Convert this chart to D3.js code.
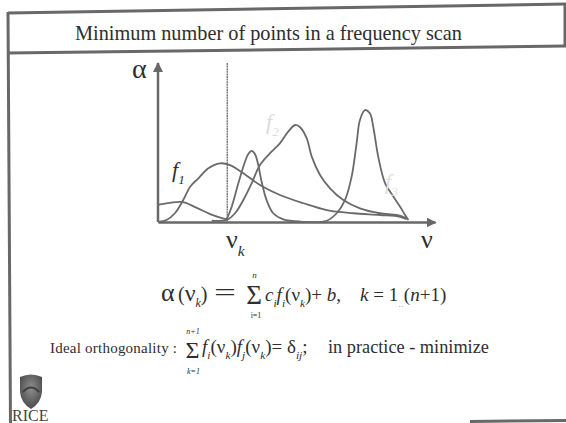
<!DOCTYPE html>
<html>
<head>
<meta charset="utf-8">
<script src="https://cdn.jsdelivr.net/npm/d3@7"></script>
<style>
  html, body { margin: 0; padding: 0; background: #fff; }
  svg { display: block; }
</style>
</head>
<body>
<svg id="slide" width="566" height="423"></svg>
<script>
// Sketched response curves: [frequency, absorbance] pairs in arbitrary units
const lowBump = [[0,10.7],[4.3,12],[8.7,12.6],[13.4,9.4],[18.8,5],[23.1,2.5],[25.3,1.6]];
const f1 = [[0,0],[3.1,1.3],[6.1,5.5],[9.1,13.8],[11.6,22.2],[14.6,27.5],[18.2,33.8],[22.4,36.9],
            [26,35.8],[30.8,30.6],[36.8,23.3],[44,17],[52.5,11.8],[60.9,7.5],[70.5,5.5],
            [80.1,4.4],[87.4,3.3],[89.8,1.7]];
const narrowPeak = [[24.8,1.7],[26.6,9.6],[29,24.3],[31.4,37.9],[32.6,42.8],[33.8,44.7],[35,42.8],
                    [36.2,35.8],[37.4,25.3],[39.2,13.8],[41.6,5.5],[45.2,1.7],[51.3,0.3]];
const f2 = [[19.4,0.8],[24.8,1.3],[27.8,5.5],[30.8,13.8],[33.8,24.3],[36.8,35.8],[40.4,43.2],
            [44,49.5],[47,56.8],[49.5,61],[51.3,59.6],[53.7,52.6],[55.5,41.1],[58.5,29.6],
            [62.1,21.2],[66.9,13.8],[72.9,8.6],[80.1,5.5],[86.2,4.4],[89.8,2.3]];
const f3 = [[51.3,0.3],[60.9,0.8],[64.5,5.5],[67.5,13.8],[69.9,28.5],[71.7,49.5],[72.9,64.2],
            [74.7,70.4],[76.5,68.4],[77.7,59.9],[79.5,41.1],[82,24.3],[85,15.9],[87.4,9.6],
            [89.2,4.4],[90.4,1.3]];
const curves = [lowBump, f1, narrowPeak, f2, f3];
const nuK = 25;   // sampling frequency marked on the axis

const titleText = "Minimum number of points in a frequency scan";

const svg = d3.select("#slide");
const ink = "#686868";
const textInk = "#2e2e2e";
const serif = "\"Liberation Serif\"";

// Slide frame
const frame = svg.append("g").attr("stroke", ink).attr("stroke-width", 3).attr("fill", "none");
frame.append("line").attr("x1", 8).attr("y1", 13).attr("x2", 566).attr("y2", 4);
frame.append("line").attr("x1", 8).attr("y1", 53).attr("x2", 566).attr("y2", 46);
frame.append("line").attr("x1", 8).attr("y1", 12).attr("x2", 10.5).attr("y2", 423);
frame.append("line").attr("x1", 565).attr("y1", 4).attr("x2", 565).attr("y2", 47);
frame.append("line").attr("x1", 470).attr("y1", 421.5).attr("x2", 566).attr("y2", 420.5);

// Scales and axes
const x = d3.scaleLinear().domain([0, 100]).range([158, 435]);
const y = d3.scaleLinear().domain([0, 100]).range([222, 63]);

const defs = svg.append("defs");
defs.append("marker").attr("id", "arrow").attr("viewBox", "0 0 10 10")
  .attr("refX", 9).attr("refY", 5).attr("markerWidth", 10).attr("markerHeight", 10)
  .attr("markerUnits", "userSpaceOnUse").attr("orient", "auto")
  .append("path").attr("d", "M0,0L10,5L0,10Z").attr("fill", ink);

const xAxis = svg.append("g").attr("transform", `translate(0,${y(0)})`)
  .call(d3.axisBottom(x).tickValues([]).tickSizeOuter(0));
const yAxis = svg.append("g").attr("transform", `translate(${x(0)},0)`)
  .call(d3.axisLeft(y).tickValues([]).tickSizeOuter(0));
xAxis.select(".domain").attr("stroke", ink).attr("stroke-width", 2.5).attr("marker-end", "url(#arrow)");
yAxis.select(".domain").attr("stroke", ink).attr("stroke-width", 2.5)
  .attr("d", `M0,${y(0)}V${y(100)}`).attr("marker-end", "url(#arrow)");

// Sampling frequency line
svg.append("line").attr("x1", x(nuK)).attr("x2", x(nuK)).attr("y1", y(100)).attr("y2", y(0))
  .attr("stroke", "#777").attr("stroke-width", 1.4).attr("stroke-dasharray", "2,0.6");

// Curves
const line = d3.line().x(d => x(d[0])).y(d => y(d[1])).curve(d3.curveCatmullRom.alpha(0.5));
svg.append("g").selectAll("path").data(curves).join("path")
  .attr("d", line).attr("fill", "none").attr("stroke", "#6a6a6a").attr("stroke-width", 1.8);

// Rich text helper: each part may set its own x, size, italic, subscript, colour, stretch
function rich(x0, y0, size, parts, color) {
  const t = svg.append("text").attr("x", x0).attr("y", y0)
    .style("font-family", serif).style("font-size", size + "px")
    .style("fill", color || textInk);
  let cur = 0;
  parts.forEach(p => {
    const ts = t.append("tspan").text(p.t.replace(/ /g, "\u00a0"));
    const target = p.sub ? size * 0.3 : 0;
    ts.attr("dy", target - cur);
    cur = target;
    if (p.x !== undefined) ts.attr("x", p.x);
    const s = p.size || (p.sub ? size * 0.6 : size);
    ts.style("font-size", s + "px");
    if (p.i) ts.style("font-style", "italic");
    if (p.color) ts.style("fill", p.color);
    if (p.len) ts.attr("textLength", p.len).attr("lengthAdjust", p.adj || "spacingAndGlyphs");
  });
  return t;
}
function plain(x0, y0, size, str, opts) {
  const o = opts || {};
  return svg.append("text").attr("x", x0).attr("y", y0)
    .style("font-family", serif).style("font-size", size + "px")
    .style("fill", o.color || textInk).attr("text-anchor", o.anchor || "start")
    .style("font-style", o.italic ? "italic" : "normal").text(str);
}

plain(268.5, 40, 20.3, titleText, {anchor: "middle"});

// Axis labels
plain(132, 78, 28, "α");
rich(226, 248, 26, [{t: "ν"}, {t: "k", sub: true, i: true}]);
plain(421, 248, 26, "ν");
rich(172, 177, 22, [{t: "f", i: true}, {t: "1", sub: true, i: true}]);
rich(266, 129, 22, [{t: "f", i: true}, {t: "2", sub: true, i: true}], "#dadada");
rich(385, 189, 22, [{t: "f", i: true}, {t: "3", sub: true, i: true}], "#dedede");

// Equation: α(ν_k) = Σ c_i f_i(ν_k) + b,  k = 1..(n+1)
rich(161, 301, 20, [
  {t: "α", size: 26}, {t: "(", x: 178}, {t: "ν", size: 24},
  {t: "k", sub: true, i: true}, {t: ")"}]);
rich(214, 301, 26, [{t: "=", len: 22}]);
plain(254, 304, 27, "Σ", {anchor: "middle"});
plain(254.5, 278, 9, "n", {anchor: "middle", italic: true});
plain(256, 318, 8, "i=1", {anchor: "middle"});
rich(265, 301, 19, [
  {t: "c", i: true}, {t: "i", sub: true, i: true},
  {t: "f", i: true}, {t: "i", sub: true, i: true},
  {t: "(ν"}, {t: "k", sub: true, i: true},
  {t: ")+ "}, {t: "b", i: true}, {t: ","}]);
rich(360, 301, 19, [
  {t: "k", i: true}, {t: " ="}, {t: " 1"},
  {t: "..", sub: true, color: "#aaa"}, {t: "("},
  {t: "n", i: true}, {t: "+1)"}]);

// Orthogonality condition
rich(50, 353, 15, [{t: "Ideal orthogonality :", len: 127, adj: "spacing"}]);
plain(192.5, 358, 24, "Σ", {anchor: "middle"});
plain(193, 334, 8, "n+1", {anchor: "middle", italic: true});
plain(193.5, 374, 8, "k=1", {anchor: "middle", italic: true});
rich(202, 353, 19, [
  {t: "f", i: true}, {t: "i", sub: true, i: true},
  {t: "(ν"}, {t: "k", sub: true, i: true}, {t: ")"},
  {t: "f", i: true}, {t: "j", sub: true, i: true},
  {t: "(ν"}, {t: "k", sub: true, i: true}, {t: ")= δ"},
  {t: "ij", sub: true, i: true}, {t: ";"}]);
plain(328, 353, 18.3, "in practice - minimize");

// Logo
const grad = defs.append("radialGradient").attr("id", "shield").attr("cx", "50%").attr("cy", "40%").attr("r", "60%");
grad.append("stop").attr("offset", "0%").attr("stop-color", "#8e8e8e");
grad.append("stop").attr("offset", "100%").attr("stop-color", "#4a4a4a");
svg.append("path").attr("d", "M20,377 Q31,372 42,377 L42,392 Q41,403 31,409 Q21,403 20,392 Z")
  .attr("fill", "url(#shield)");
svg.append("path").attr("d", "M23,392 Q31,383 39,392").attr("fill", "none").attr("stroke", "#3f3f3f").attr("stroke-width", 2);
plain(12, 421, 16, "RICE", {color: "#444"});
</script>
</body>
</html>
